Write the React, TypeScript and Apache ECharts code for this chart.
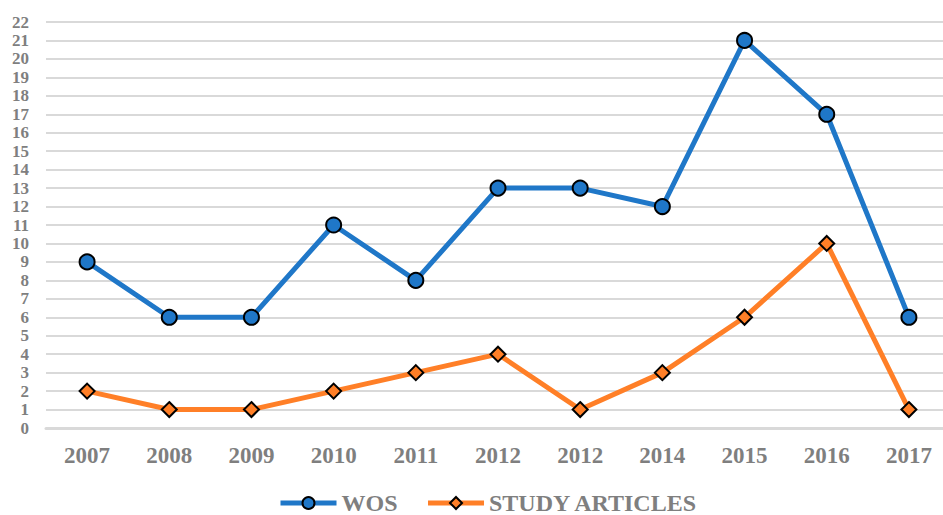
import React, { useEffect, useRef } from "react";
import * as echarts from "echarts";

const categories = ["2007", "2008", "2009", "2010", "2011", "2012", "2012", "2014", "2015", "2016", "2017"];
const wos = [9, 6, 6, 11, 8, 13, 13, 12, 21, 17, 6];
const studyArticles = [2, 1, 1, 2, 3, 4, 1, 3, 6, 10, 1];

const FONT = "'Liberation Serif', 'Times New Roman', serif";
const GRAY = "#7f7f7f";

export default function App() {
  const ref = useRef<HTMLDivElement>(null);
  useEffect(() => {
    if (!ref.current) return;
    document.body.style.overflow = "hidden";
    const chart = echarts.init(ref.current, undefined, { renderer: "svg" });
    chart.setOption({
      animation: false,
      grid: { left: 46, right: 0, top: 22, bottom: 87, containLabel: false },
      xAxis: {
        type: "category",
        data: categories,
        boundaryGap: true,
        axisLine: { show: true, lineStyle: { color: "#d9d9d9", width: 3 } },
        axisTick: { show: false },
        axisLabel: { color: GRAY, fontFamily: FONT, fontWeight: "bold", fontSize: 23, margin: 16, interval: 0 },
      },
      yAxis: {
        type: "value",
        min: 0,
        max: 22,
        interval: 1,
        axisLine: { show: false },
        axisTick: { show: false },
        splitLine: { lineStyle: { color: "#d9d9d9", width: 2 } },
        axisLabel: { color: GRAY, fontFamily: FONT, fontWeight: "bold", fontSize: 17, margin: 17 },
      },
      legend: {
        left: 273,
        top: 486,
        itemWidth: 56,
        itemHeight: 15,
        itemGap: 28,
        lineStyle: { width: 5 },
        textStyle: { color: GRAY, fontFamily: FONT, fontWeight: "bold", fontSize: 24 },
        data: ["WOS", "STUDY ARTICLES"],
      },
      series: [
        {
          name: "WOS",
          type: "line",
          data: wos,
          symbol: "circle",
          symbolSize: 15,
          lineStyle: { color: "#1f77c8", width: 5 },
          itemStyle: { color: "#1f77c8", borderColor: "#000", borderWidth: 2 },
          z: 3,
        },
        {
          name: "STUDY ARTICLES",
          type: "line",
          data: studyArticles,
          symbol: "diamond",
          symbolSize: 15,
          lineStyle: { color: "#ff7f27", width: 5 },
          itemStyle: { color: "#ff7f27", borderColor: "#000", borderWidth: 2 },
          z: 2,
        },
      ],
    });
    return () => chart.dispose();
  }, []);
  return <div ref={ref} style={{ width: 950, height: 515, position: "absolute", left: 0, top: 0 }} />;
}
